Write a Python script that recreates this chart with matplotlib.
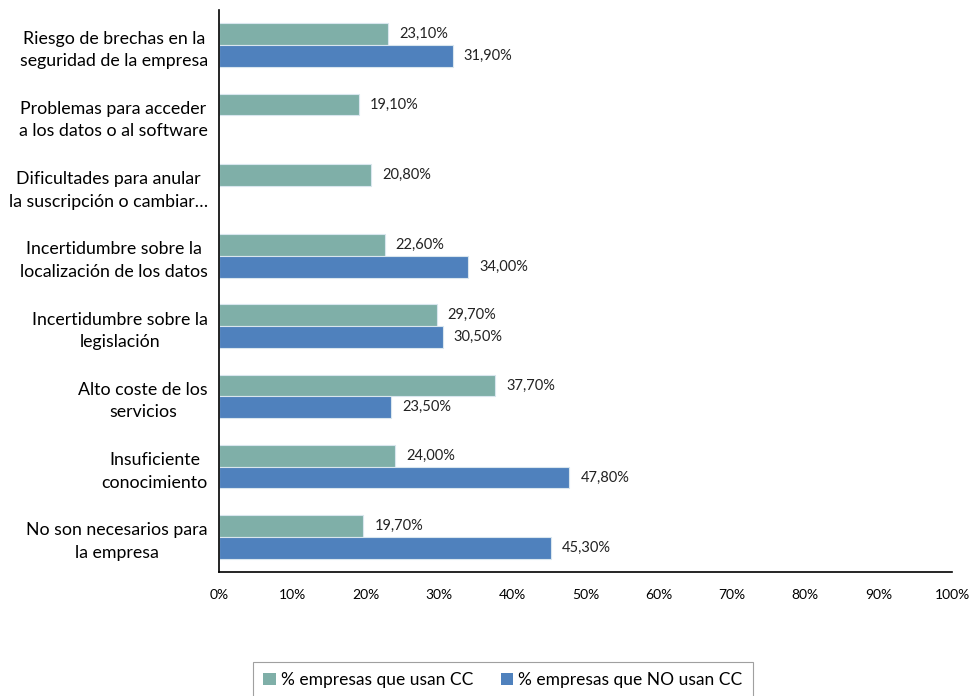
import numpy as np
import matplotlib
matplotlib.use("Agg")
import matplotlib.pyplot as plt
from matplotlib.ticker import FuncFormatter

plt.rcParams['font.family'] = ['Lato', 'DejaVu Sans']

categorias = [
    "Riesgo de brechas en la\nseguridad de la empresa",
    "Problemas para acceder\na los datos o al software",
    "Dificultades para anular\nla suscripción o cambiar…",
    "Incertidumbre sobre la\nlocalización de los datos",
    "Incertidumbre sobre la\nlegislación",
    "Alto coste de los\nservicios",
    "Insuficiente\nconocimiento",
    "No son necesarios para\nla empresa",
]
usan_cc = [23.1, 19.1, 20.8, 22.6, 29.7, 37.7, 24.0, 19.7]
no_usan_cc = [31.9, np.nan, np.nan, 34.0, 30.5, 23.5, 47.8, 45.3]
series = ["% empresas que usan CC", "% empresas que NO usan CC"]
colores = ["#7FAFA8", "#4F81BD"]

fig = plt.figure(figsize=(9.71, 6.96), dpi=100)
ax = fig.add_axes([219/971, 1-572/696, (952-219)/971, (572-10)/696])

y = np.arange(len(categorias))
h = 0.31
for i, (vals, off) in enumerate([(usan_cc, -h/2), (no_usan_cc, h/2)]):
    vals = np.array(vals, dtype=float)
    mask = ~np.isnan(vals)
    ax.barh(y[mask] + off, vals[mask], height=h, color=colores[i],
            edgecolor="#d9e6ee", linewidth=0.8, label=series[i])
    for yy, v in zip(y[mask] + off, vals[mask]):
        ax.text(v + 1.5, yy, f"{v:.2f}%".replace(".", ","), va="center",
                ha="left", fontsize=10.5, color="#222222")

ax.set_xlim(0, 100)
ax.set_ylim(len(categorias) - 0.5, -0.5)
ax.set_xticks(np.arange(0, 101, 10))
ax.xaxis.set_major_formatter(FuncFormatter(lambda v, p: f"{v:.0f}%"))
ax.set_yticks(y)
ax.set_yticklabels(categorias, fontsize=12.8, multialignment="center", linespacing=1.5)
ax.tick_params(axis="y", length=0, pad=8)
ax.tick_params(axis="x", length=0, pad=12, labelsize=10)
for s in ["top", "right"]:
    ax.spines[s].set_visible(False)
ax.spines["left"].set_linewidth(1.2)
ax.spines["bottom"].set_linewidth(1.2)

leg = fig.legend(loc="upper center", bbox_to_anchor=(503/971, 1-662/696), ncol=2,
                 fontsize=12.5, frameon=True, fancybox=False, edgecolor="#888888",
                 handlelength=0.7, handleheight=0.7, handletextpad=0.3,
                 columnspacing=1.6, borderpad=0.6, borderaxespad=0)
leg.get_frame().set_linewidth(0.8)
for hnd in leg.legend_handles:
    hnd.set_edgecolor("none")

fig.savefig("out.png", dpi=100)
